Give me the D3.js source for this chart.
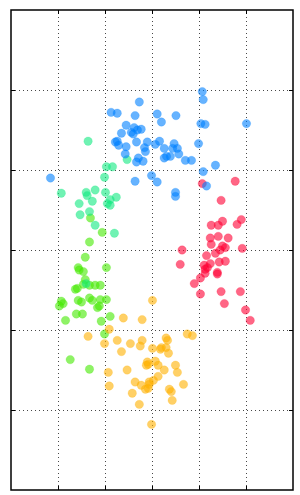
<!DOCTYPE html>
<html>
<head>
<meta charset="utf-8">
<script src="https://cdn.jsdelivr.net/npm/d3@7"></script>
<style>
  body { margin: 0; background: #fff; }
  .grid line { stroke: #333; stroke-width: 0.9; stroke-dasharray: 1,3; }
  .grid path { display: none; }
  .ticks path { display: none; }
  .ticks line { stroke: #000; stroke-width: 1; }
</style>
</head>
<body>
<div id="chart"></div>
<script>
// tick values, both axes
const xTicks = [-2, -1, 0, 1, 2]
const yTicks = [-2, -1, 0, 1, 2]

// clusters: x / y values
const blueX = [1.07,1.09,-0.27,-0.87,-0.74,-0.36,0.11,0.51,0.20,1.04,1.13,2.01,-0.55,-0.38,-0.23,-0.31,-0.44,-0.65,-0.40,-0.78,-0.74,-0.71,-0.33,-0.10,0.16,0.07,-0.55,-0.16,-0.14,0.47,0.26,0.44,0.54,0.99,-0.57,-0.29,-0.33,-0.19,0.57,0.26,0.31,0.39,0.71,0.84,1.35,1.09,-2.16,-0.01,-0.36,0.11,1.16,0.50,0.50]
const blueY = [1.98,1.88,1.85,1.72,1.71,1.68,1.70,1.68,1.60,1.58,1.57,1.58,1.56,1.53,1.51,1.50,1.47,1.46,1.45,1.35,1.36,1.31,1.35,1.35,1.36,1.32,1.29,1.28,1.23,1.33,1.27,1.27,1.27,1.33,1.20,1.15,1.10,1.11,1.20,1.15,1.17,1.17,1.12,1.12,1.06,0.98,0.90,0.93,0.86,0.85,0.80,0.72,0.67]

const redX = [1.07,1.77,1.47,1.26,1.41,1.50,1.81,1.90,1.24,1.41,1.62,1.26,1.50,1.56,1.45,1.92,0.64,1.35,1.16,0.60,1.24,1.43,1.56,1.11,1.18,1.13,1.13,1.39,1.39,1.03,0.90,1.03,1.47,1.88,1.54,1.99,2.09]
const redY = [0.83,0.86,0.62,0.31,0.31,0.36,0.32,0.38,0.15,0.17,0.15,0.07,0.05,0.03,0.00,0.02,0.00,-0.04,-0.07,-0.18,-0.17,-0.15,-0.14,-0.19,-0.22,-0.24,-0.29,-0.28,-0.30,-0.35,-0.42,-0.55,-0.52,-0.52,-0.67,-0.75,-0.88]

const greenX = [-1.36,-0.53,-0.97,-0.84,-1.01,-1.93,-1.40,-1.38,-1.21,-0.99,-0.89,-0.76,-0.95,-0.89,-1.27,-1.55,-1.53,-1.33,-1.21,-0.80,-1.40]
const greenY = [1.36,1.13,1.04,1.04,0.91,0.71,0.72,0.68,0.75,0.72,0.63,0.66,0.58,0.56,0.61,0.58,0.44,0.48,0.31,0.21,-0.42]

const limeX = [-1.31,-1.06,-1.33,-1.42,-1.57,-1.55,-1.46,-0.97,-1.42,-1.63,-1.59,-1.46,-1.33,-1.21,-1.10,-1.93,-1.89,-1.97,-1.57,-1.50,-1.33,-1.27,-1.10,-0.97,-1.16,-1.12,-1.61,-1.48,-0.89,-1.84,-1.08,-1.01,-1.74,-1.33]
const limeY = [0.40,0.22,0.10,-0.09,-0.22,-0.25,-0.27,-0.22,-0.37,-0.49,-0.48,-0.43,-0.44,-0.44,-0.44,-0.64,-0.67,-0.70,-0.63,-0.65,-0.60,-0.63,-0.62,-0.62,-0.72,-0.70,-0.80,-0.80,-0.83,-0.88,-0.89,-1.05,-1.37,-1.49]

const orangeX = [0.01,-0.61,-0.21,-0.91,-1.36,-1.01,-0.74,-0.46,-0.21,-0.25,-0.65,0.01,0.18,0.20,0.30,0.33,0.30,0.35,0.75,0.86,-0.10,-0.08,-0.12,0.07,0.13,0.50,0.54,0.26,-0.53,-0.93,0.13,0.03,-0.06,-0.06,-0.36,-0.23,-0.91,0.67,-0.14,-0.08,0.37,0.41,-0.42,0.43,-0.27,-0.01]
const orangeY = [-0.63,-0.85,-0.87,-0.99,-1.08,-1.17,-1.13,-1.17,-1.13,-1.20,-1.27,-1.23,-1.24,-1.22,-1.10,-1.13,-1.22,-1.29,-1.05,-1.07,-1.40,-1.43,-1.44,-1.39,-1.44,-1.44,-1.53,-1.50,-1.50,-1.53,-1.58,-1.63,-1.65,-1.68,-1.65,-1.69,-1.70,-1.68,-1.74,-1.73,-1.74,-1.77,-1.79,-1.88,-1.93,-2.18]

const series = [
  {name: 'lime', color: '#44ea00', xs: limeX, ys: limeY},
  {name: 'orange', color: '#ffb000', xs: orangeX, ys: orangeY},
  {name: 'green', color: '#11ea80', xs: greenX, ys: greenY},
  {name: 'red', color: '#ff0033', xs: redX, ys: redY},
  {name: 'blue', color: '#0080ff', xs: blueX, ys: blueY}
]

const width = 300
const height = 495
const margin = {top: 10, right: 7, bottom: 5, left: 11}
const chartWidth = width - margin.left - margin.right
const chartHeight = height - margin.top - margin.bottom

const xScale = d3.scaleLinear().domain([-3, 3]).range([0, chartWidth])
const yScale = d3.scaleLinear().domain([-3, 3]).range([chartHeight, 0])

const svg = d3.select('#chart')
  .append('svg')
    .attr('width', width)
    .attr('height', height)
  .append('g')
    .attr('transform', 'translate(' + margin.left + ',' + margin.top + ')')

// dotted grid
svg.append('g')
  .attr('class', 'grid')
  .attr('transform', 'translate(0,' + chartHeight + ')')
  .call(d3.axisBottom(xScale).tickValues(xTicks).tickSize(-chartHeight).tickFormat(''))

svg.append('g')
  .attr('class', 'grid')
  .call(d3.axisLeft(yScale).tickValues(yTicks).tickSize(-chartWidth).tickFormat(''))

// points
series.forEach(s => {
  const pts = s.xs.map((x, i) => ({x: x, y: s.ys[i]}))
  svg.append('g')
    .attr('class', 'dots ' + s.name)
    .selectAll('circle')
    .data(pts)
    .join('circle')
      .attr('cx', d => xScale(d.x))
      .attr('cy', d => yScale(d.y))
      .attr('r', 4.2)
      .attr('fill', s.color)
      .attr('fill-opacity', 0.6)
      .attr('stroke', s.color)
      .attr('stroke-opacity', 0.35)
      .attr('stroke-width', 0.6)
})

// inward ticks on all four sides
svg.append('g').attr('class', 'ticks')
  .attr('transform', 'translate(0,' + chartHeight + ')')
  .call(d3.axisBottom(xScale).tickValues(xTicks).tickSize(-4).tickFormat(''))
svg.append('g').attr('class', 'ticks')
  .call(d3.axisTop(xScale).tickValues(xTicks).tickSize(-4).tickFormat(''))
svg.append('g').attr('class', 'ticks')
  .call(d3.axisLeft(yScale).tickValues(yTicks).tickSize(-4).tickFormat(''))
svg.append('g').attr('class', 'ticks')
  .attr('transform', 'translate(' + chartWidth + ',0)')
  .call(d3.axisRight(yScale).tickValues(yTicks).tickSize(-4).tickFormat(''))

// frame
svg.append('rect')
  .attr('width', chartWidth)
  .attr('height', chartHeight)
  .attr('fill', 'none')
  .attr('stroke', '#000')
  .attr('stroke-width', 1.5)
</script>
</body>
</html>
